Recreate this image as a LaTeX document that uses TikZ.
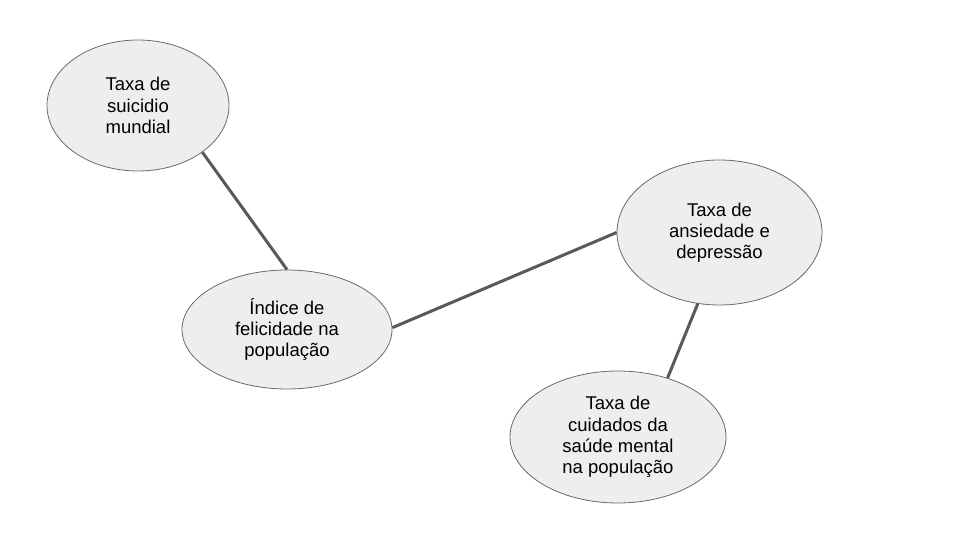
\documentclass[tikz,border=0pt]{standalone}
\usepackage{fontspec}
\setmainfont{Liberation Sans}
\usetikzlibrary{shapes.geometric}
\definecolor{bolhafundo}{HTML}{EEEEEE}
\definecolor{bolhaborda}{HTML}{6A6A6A}
\definecolor{ligacao}{HTML}{595959}
\begin{document}
\begin{tikzpicture}[x=1pt,y=-1pt,line cap=round, line join=round,
		bolha/.style={ellipse,draw=bolhaborda,line width=0.8pt,fill=bolhafundo,inner sep=0pt,align=center,
			font=\fontsize{18.5}{21.2}\selectfont},
		liga/.style={draw=ligacao,line width=3pt,line cap=butt}]
			\useasboundingbox (0,0) rectangle (960,540);
			\node[bolha,minimum width=182,minimum height=131] (suicidio) at (138,105.5) {Taxa de\\suicidio\\mundial};
			\node[bolha,minimum width=210,minimum height=119] (felicidade) at (287,329.5) {Índice de\\felicidade na\\população};
			\node[bolha,minimum width=205,minimum height=145] (ansiedade) at (719.5,232.5) {Taxa de\\ansiedade e\\depressão};
			\node[bolha,minimum width=216,minimum height=132] (cuidados) at (618,437) {Taxa de\\cuidados da\\saúde mental\\na população};
			\draw[liga] (suicidio.-36) -- (felicidade.90);
			\draw[liga] (felicidade.1) -- (ansiedade.180);
			\draw[liga] (ansiedade.-107) -- (cuidados.50);
		\end{tikzpicture}
\end{document}
